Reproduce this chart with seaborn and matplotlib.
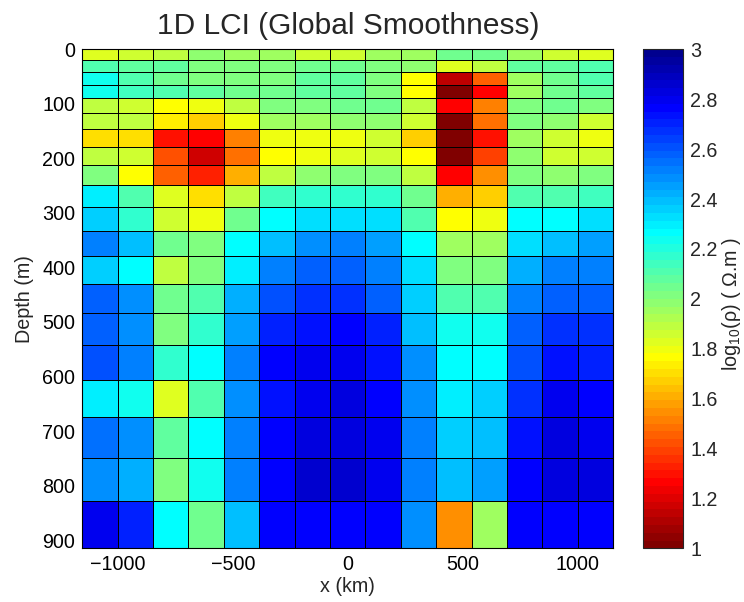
import numpy as np
import matplotlib
matplotlib.use("Agg")
import matplotlib.pyplot as plt
from matplotlib.colors import ListedColormap
import seaborn as sns

# ---------------- data ----------------
x_edges = [-1155, -1001, -847, -693, -539, -385, -231, -77, 77, 231, 385,
           539, 693, 847, 1001, 1155]
depth_edges = [0, 20, 41.6, 64.9, 90, 117.3, 146.7, 178.5, 212.7, 249.6,
               289.7, 332.8, 379.3, 429.5, 484.2, 542.9, 606.4, 674.4,
               748.5, 828.3, 915]

row01 = [1.84, 1.86, 1.89, 1.98, 1.94, 1.94, 1.85, 1.85, 1.94, 1.94, 2.06, 2.06, 1.94, 1.85, 1.84]
row02 = [2.12, 2.09, 2.09, 2.00, 2.00, 2.00, 2.06, 2.06, 2.03, 1.97, 1.83, 1.90, 2.07, 2.07, 2.11]
row03 = [2.22, 2.12, 2.06, 2.00, 2.00, 2.03, 2.07, 2.07, 2.00, 1.78, 1.15, 1.44, 1.94, 2.06, 2.12]
row04 = [2.22, 2.15, 2.12, 2.09, 2.06, 2.06, 2.09, 2.09, 2.03, 1.75, 1.00, 1.28, 1.94, 2.06, 2.09]
row05 = [1.90, 1.86, 1.75, 1.81, 1.90, 2.00, 2.03, 2.06, 2.06, 1.90, 1.28, 1.52, 2.03, 2.06, 2.03]
row06 = [1.90, 1.90, 1.72, 1.67, 1.81, 1.94, 1.94, 1.97, 1.97, 1.86, 1.03, 1.47, 2.00, 1.97, 1.87]
row07 = [1.70, 1.70, 1.31, 1.28, 1.53, 1.81, 1.81, 1.81, 1.87, 1.68, 1.00, 1.31, 1.94, 1.87, 1.81]
row08 = [1.89, 1.85, 1.41, 1.17, 1.47, 1.78, 1.81, 1.83, 1.87, 1.78, 1.00, 1.38, 1.97, 1.87, 1.87]
row09 = [2.00, 1.78, 1.44, 1.34, 1.60, 1.90, 1.97, 2.00, 2.03, 1.90, 1.28, 1.56, 2.03, 1.97, 2.00]
row10 = [2.30, 2.12, 1.83, 1.70, 1.90, 2.13, 2.17, 2.17, 2.17, 2.06, 1.60, 1.68, 2.12, 2.12, 2.15]
row11 = [2.37, 2.17, 1.87, 1.81, 2.06, 2.25, 2.33, 2.34, 2.33, 2.12, 1.78, 1.81, 2.25, 2.28, 2.32]
row12 = [2.50, 2.40, 2.06, 2.03, 2.25, 2.40, 2.47, 2.50, 2.44, 2.25, 1.94, 1.94, 2.33, 2.40, 2.44]
row13 = [2.37, 2.25, 1.90, 2.03, 2.31, 2.53, 2.59, 2.59, 2.53, 2.33, 2.03, 2.03, 2.42, 2.50, 2.53]
row14 = [2.59, 2.47, 2.06, 2.12, 2.42, 2.62, 2.66, 2.66, 2.59, 2.37, 2.12, 2.12, 2.53, 2.59, 2.59]
row15 = [2.59, 2.47, 2.03, 2.17, 2.44, 2.69, 2.72, 2.78, 2.69, 2.40, 2.22, 2.22, 2.59, 2.66, 2.66]
row16 = [2.62, 2.53, 2.17, 2.28, 2.50, 2.77, 2.81, 2.81, 2.72, 2.47, 2.28, 2.28, 2.62, 2.72, 2.69]
row17 = [2.30, 2.22, 1.83, 2.12, 2.47, 2.72, 2.80, 2.83, 2.78, 2.48, 2.31, 2.35, 2.66, 2.81, 2.78]
row18 = [2.56, 2.48, 2.09, 2.25, 2.53, 2.78, 2.84, 2.84, 2.80, 2.53, 2.37, 2.40, 2.72, 2.83, 2.80]
row19 = [2.48, 2.42, 2.03, 2.22, 2.50, 2.78, 2.87, 2.87, 2.80, 2.53, 2.40, 2.45, 2.78, 2.84, 2.83]
row20 = [2.80, 2.69, 2.25, 2.04, 2.40, 2.78, 2.77, 2.78, 2.78, 2.48, 1.56, 1.94, 2.78, 2.77, 2.76]

log_rho = np.array([row01, row02, row03, row04, row05, row06, row07, row08, row09, row10,
                    row11, row12, row13, row14, row15, row16, row17, row18, row19, row20])

x_ticks = [-1000, -500, 0, 500, 1000]
y_ticks = [0, 100, 200, 300, 400, 500, 600, 700, 800, 900]
cbar_ticks = [1, 1.2, 1.4, 1.6, 1.8, 2, 2.2, 2.4, 2.6, 2.8, 3]


def matlab_jet(m=64):
    n = int(np.ceil(m / 4))
    u = np.concatenate([np.arange(1, n + 1) / n, np.ones(n - 1), np.arange(n, 0, -1) / n])
    g = int(np.ceil(n / 2)) - (1 if m % 4 == 1 else 0) + np.arange(1, len(u) + 1)
    r = g + n
    b = g - n
    J = np.zeros((m, 3))
    for idx, col in ((r, 0), (g, 1), (b, 2)):
        keep = (idx >= 1) & (idx <= m)
        J[idx[keep] - 1, col] = u[keep]
    return J


cmap = ListedColormap(matlab_jet(64)[::-1])

# ---------------- style ----------------
sns.set_style("white")
plt.rcParams['font.family'] = ['Liberation Sans', 'DejaVu Sans']
plt.rcParams['mathtext.fontset'] = 'custom'
plt.rcParams['mathtext.rm'] = 'Liberation Sans'
plt.rcParams['mathtext.it'] = 'Liberation Sans'

fig = plt.figure(figsize=(7.44, 6.02), dpi=100)
ax = fig.add_axes([0.1106, 0.0892, 0.7137, 0.8289])
cax = fig.add_axes([0.8638, 0.0892, 0.0546, 0.8289])

mesh = ax.pcolormesh(x_edges, depth_edges, log_rho, cmap=cmap, vmin=1, vmax=3,
                     edgecolors='black', linewidth=0.5)
ax.set_xlim(x_edges[0], x_edges[-1])
ax.set_ylim(depth_edges[-1], depth_edges[0])
ax.set_xticks(x_ticks)
ax.set_yticks(y_ticks)
ax.tick_params(direction='in', length=5, labelsize=14.2, colors='black', pad=5)
for sp in ax.spines.values():
    sp.set_color('black')
    sp.set_linewidth(0.8)

ax.set_title('1D LCI (Global Smoothness)', fontsize=21.5, pad=11)
ax.set_xlabel('x (km)', fontsize=14.2, labelpad=2)
ax.set_ylabel('Depth (m)', fontsize=14.2, labelpad=6)

cb = fig.colorbar(mesh, cax=cax, ticks=cbar_ticks)
cb.ax.set_yticklabels(['%g' % t for t in cbar_ticks])
cb.ax.tick_params(direction='in', length=4, left=True, right=True, labelsize=14.2,
                  width=0.6, pad=5)
cb.outline.set_linewidth(0.8)
cb.set_label('log$_{10}$(ρ) ( Ω.m )', fontsize=14.2)
cb.ax.yaxis.set_label_coords(1.9, 0.49)

fig.savefig('out.png', dpi=100)
